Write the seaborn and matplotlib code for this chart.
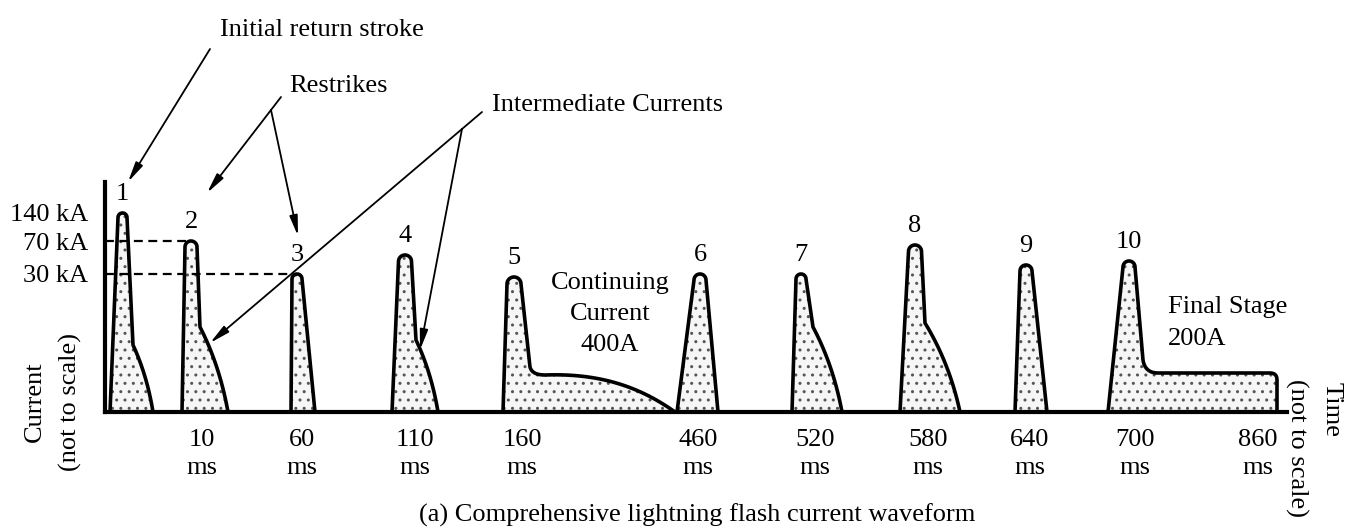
import matplotlib.pyplot as plt
import numpy as np
import seaborn as sns

# --- stroke geometry -----------------------------------------------------
# x = position along the (not to scale) time axis, y = height above baseline
stroke_ids = ['1', '2', '3', '4', '5', '6', '7', '8', '9', '10']
stroke_start = [110, 182, 291, 392, 503, 677, 792, 900, 1015, 1108]
stroke_peak_x = [122.5, 191, 297, 405, 514, 700, 801, 915, 1026, 1129]
stroke_peak = [199, 171, 138, 157, 135, 138, 138, 167, 147, 151]
top_width = [4.5, 6, 5, 6.5, 7, 6, 5, 6.5, 6, 6]
stroke_end = [153, 228, 315, 438, 675, 718, 842, 960, 1047, 1277]
tail_kind = ['decay', 'decay', 'straight', 'decay', 'continuing',
             'straight', 'decay', 'decay', 'straight', 'final']
shoulder_x = [133, 200, None, 416, 530, None, 813, 925, None, 1143]
shoulder_y = [67, 85, None, 72, 45, None, 85, 89, None, 52]
plateau_level = [None, None, None, None, 37, None, None, None, None, 39]

# axis labels
ytick_pos = [199, 171, 138]
ytick_labels = ['140 kA', '70 kA', '30 kA']
dash_end = [None, 186, 292]
xtick_pos = [202, 302, 415, 522, 698, 815, 928, 1030, 1135, 1258]
xtick_labels = ['10', '60', '110', '160', '460', '520', '580', '640', '700', '860']

BASE_PX = 412  # baseline row in the picture


def bez(pts, n=30):
    pts = np.asarray(pts, float)
    t = np.linspace(0, 1, n)[:, None]
    k = len(pts) - 1
    from math import comb
    out = sum(comb(k, i) * (1 - t) ** (k - i) * t ** i * pts[i] for i in range(k + 1))
    return out[:, 0], out[:, 1]


def outline(i):
    x0, xp, h, w, xe = (stroke_start[i], stroke_peak_x[i], stroke_peak[i],
                        top_width[i], stroke_end[i])
    xs, ys = [x0], [0.0]
    a = np.linspace(np.pi, 0, 24)
    xs += list(xp + w * np.cos(a))
    ys += list(h - w + w * np.sin(a))
    kind = tail_kind[i]
    if kind == 'straight':
        xs.append(xe); ys.append(0)
    else:
        sx, sy = shoulder_x[i], shoulder_y[i]
        xs.append(sx); ys.append(sy)
        if kind == 'decay':
            bx, by = bez([(sx, sy), (sx + 0.7 * (xe - sx), 0.55 * sy), (xe, 0)])
            xs += list(bx); ys += list(by)
        elif kind == 'continuing':
            p = plateau_level[i]
            bx, by = bez([(sx, sy), (sx + 2, p), (sx + 15, p)], 12)
            xs += list(bx); ys += list(by)
            bx, by = bez([(sx + 15, p), (600, p + 2), (640, 25), (xe, 0)])
            xs += list(bx); ys += list(by)
        else:  # final stage plateau
            p = plateau_level[i]
            bx, by = bez([(sx, sy), (sx + 2, p), (sx + 15, p)], 12)
            xs += list(bx); ys += list(by)
            bx, by = bez([(xe - 7, p), (xe, p), (xe, p - 7)], 10)
            xs += list(bx); ys += list(by)
            xs.append(xe); ys.append(0)
    return np.array(xs), np.array(ys)


sns.set_theme(style='white')
plt.rcParams['font.family'] = ['Liberation Serif', 'DejaVu Serif']
plt.rcParams['text.color'] = 'black'
plt.rcParams['hatch.linewidth'] = 1.0

fig = plt.figure(figsize=(13.52, 5.30), dpi=100)
ax = fig.add_axes([105 / 1352, (530 - BASE_PX) / 530,
                   (1287 - 105) / 1352, (BASE_PX - 182) / 530])
ax.set_xlim(105, 1287)
ax.set_ylim(0, BASE_PX - 182)

FS = 19
for i, sid in enumerate(stroke_ids):
    xs, ys = outline(i)
    ax.fill(xs, ys, facecolor='#f6f6f6', edgecolor='#555555', hatch='..',
            linewidth=0, zorder=1)
    sns.lineplot(x=xs, y=ys, sort=False, estimator=None, color='black',
                 lw=2.6, ax=ax, zorder=3)
    ax.text(stroke_peak_x[i], stroke_peak[i] + 19, sid, ha='center',
            va='center', fontsize=FS)

# dashed reference levels
for lvl, xe in zip(ytick_pos, dash_end):
    if xe is not None:
        ax.plot([105, xe], [lvl, lvl], color='black', lw=1.6,
                dashes=(4, 2.5), zorder=2)

for s in ['top', 'right']:
    ax.spines[s].set_visible(False)
for s in ['left', 'bottom']:
    ax.spines[s].set_color('black')
    ax.spines[s].set_linewidth(3)

ax.set_yticks(ytick_pos, ytick_labels, fontsize=FS)
ax.set_xticks(xtick_pos, [f'{t}\nms' for t in xtick_labels], fontsize=FS,
              linespacing=1.35)
ax.tick_params(axis='y', direction='in', length=10, width=1.5, pad=12,
               colors='black')
ax.tick_params(axis='x', length=0, pad=12, colors='black')


def px(y):
    return BASE_PX - y


# side labels
ax.text(35, px(402), 'Current', rotation=90, ha='center', va='center',
        fontsize=FS, clip_on=False)
ax.text(70, px(402), '(not to scale)', rotation=90, ha='center', va='center',
        fontsize=FS, clip_on=False)
ax.text(1297, px(448), '(not to scale)', rotation=270, ha='center',
        va='center', fontsize=FS, clip_on=False)
ax.text(1332, px(410), 'Time', rotation=270, ha='center', va='center',
        fontsize=FS, clip_on=False)

ax.text(610, px(314), 'Continuing\nCurrent\n400A', ha='center', va='center',
        fontsize=FS, linespacing=1.55)
ax.text(1168, px(323), 'Final Stage\n200A', ha='left', va='center',
        fontsize=FS, linespacing=1.55)

# annotations with arrows
arrow = dict(arrowstyle='-|>,head_length=1.0,head_width=0.2', lw=1.3,
             color='black', shrinkA=0, shrinkB=0)
ax.text(220, px(30), 'Initial return stroke', ha='left', va='center',
        fontsize=FS, clip_on=False)
ax.annotate('', xy=(128, px(182)), xytext=(210, px(49)), arrowprops=arrow,
            annotation_clip=False)

ax.text(289, px(86), 'Restrikes', ha='left', va='center', fontsize=FS,
        clip_on=False)
ax.plot([281, 271], [px(97), px(110)], color='black', lw=1.3, clip_on=False)
ax.annotate('', xy=(207, px(193)), xytext=(271, px(110)), arrowprops=arrow,
            annotation_clip=False)
ax.annotate('', xy=(298, px(236)), xytext=(271, px(110)), arrowprops=arrow,
            annotation_clip=False)

ax.text(492, px(105), 'Intermediate Currents', ha='left', va='center',
        fontsize=FS, clip_on=False)
ax.plot([482, 462], [px(112), px(129)], color='black', lw=1.3, clip_on=False)
ax.annotate('', xy=(210, px(343)), xytext=(462, px(129)), arrowprops=arrow,
            annotation_clip=False)
ax.annotate('', xy=(420, px(350)), xytext=(462, px(129)), arrowprops=arrow,
            annotation_clip=False)

# caption at the bottom edge
ax.text(697, px(527), '(a) Comprehensive lightning flash current waveform',
        ha='center', va='bottom', fontsize=FS, clip_on=False)

fig.savefig('out.png', dpi=100)
